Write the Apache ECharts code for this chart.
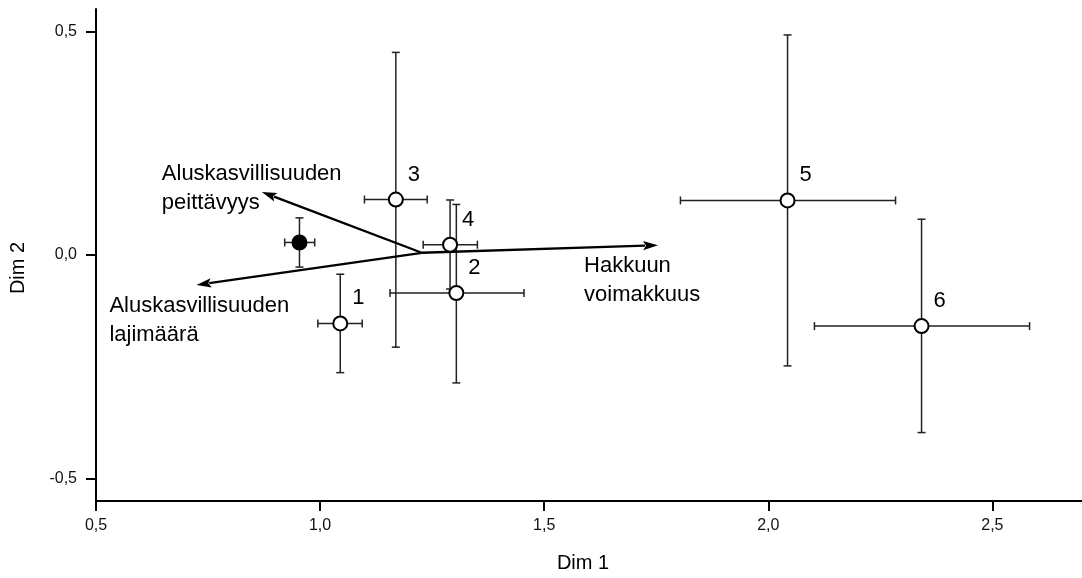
<!DOCTYPE html>
<html>
<head>
<meta charset="utf-8">
<script src="https://cdn.jsdelivr.net/npm/echarts@6/dist/echarts.min.js"></script>
<style>
  html, body { margin: 0; padding: 0; background: #fff; }
  #chart { width: 1082px; height: 578px; }
</style>
</head>
<body>
<div id="chart"></div>
<script>
// Group means on the two ordination dimensions with their ranges
const pointLabels = ['', '1', '2', '3', '4', '5', '6'];
const pointFilled = [true, false, false, false, false, false, false];
const dim1 = [0.954, 1.045, 1.304, 1.169, 1.290, 2.043, 2.342];
const dim2 = [0.028, -0.153, -0.085, 0.124, 0.023, 0.122, -0.159];
const dim1Low = [0.921, 0.995, 1.156, 1.099, 1.230, 1.804, 2.103];
const dim1High = [0.988, 1.094, 1.455, 1.239, 1.351, 2.284, 2.583];
const dim2Low = [-0.027, -0.263, -0.286, -0.206, -0.076, -0.248, -0.397];
const dim2High = [0.083, -0.043, 0.113, 0.453, 0.123, 0.492, 0.080];

// Environmental vectors fitted onto the ordination
const vectorNames = ['Hakkuun\nvoimakkuus', 'Aluskasvillisuuden\npeittävyys', 'Aluskasvillisuuden\nlajimäärä'];
const vectorOrigin = [1.227, 0.005];
const vectorX = [1.754, 0.870, 0.724];
const vectorY = [0.022, 0.141, -0.067];

// Axis ticks
const xTicks = [0.5, 1.0, 1.5, 2.0, 2.5];
const yTicks = [-0.5, 0.0, 0.5];

// Pixel offsets of each vector's caption from its arrow tip (left edge, middle)
const vectorLabelOffset = [[-74, 35], [-100, -3], [-87, 35]];

const FONT = '"Liberation Sans", Arial, Helvetica, sans-serif';
const fmt = v => v.toFixed(1).replace('.', ',');

const errData = dim1.map((x, i) => [x, dim2[i], dim1Low[i], dim1High[i], dim2Low[i], dim2High[i]]);
const vecData = vectorX.map((x, i) => [vectorOrigin[0], vectorOrigin[1], x, vectorY[i], i]);

const chart = echarts.init(document.getElementById('chart'), null, { renderer: 'canvas' });

chart.setOption({
  backgroundColor: '#fff',
  animation: false,
  grid: { left: 95.7, right: 0, top: 9, bottom: 75.7, containLabel: false },
  xAxis: {
    type: 'value', min: 0.5, max: 2.7,
    name: 'Dim 1', nameLocation: 'middle', nameGap: 52,
    nameTextStyle: { fontFamily: FONT, fontSize: 20, color: '#000', padding: [0, 12, 0, 0] },
    axisLine: { onZero: false, lineStyle: { color: '#000', width: 2 } },
    axisTick: { show: true, customValues: xTicks, length: 10, inside: false, lineStyle: { color: '#000', width: 2 } },
    axisLabel: { customValues: xTicks, formatter: fmt, margin: 17, fontFamily: FONT, fontSize: 16, color: '#111' },
    splitLine: { show: false }
  },
  yAxis: {
    type: 'value', min: -0.55, max: 0.55,
    name: 'Dim 2', nameLocation: 'middle', nameGap: 68, nameRotate: 90,
    nameTextStyle: { fontFamily: FONT, fontSize: 20, color: '#000', padding: [0, 26, 0, 0] },
    axisLine: { onZero: false, lineStyle: { color: '#000', width: 2 } },
    axisTick: { show: true, customValues: yTicks, length: 10, inside: false, lineStyle: { color: '#000', width: 2 } },
    axisLabel: { customValues: yTicks, formatter: fmt, margin: 19, fontFamily: FONT, fontSize: 16, color: '#111' },
    splitLine: { show: false }
  },
  series: [
    {
      // horizontal and vertical range bars
      type: 'custom',
      z: 1,
      data: errData,
      renderItem: function (params, api) {
        const c = api.coord([api.value(0), api.value(1)]);
        const xl = api.coord([api.value(2), api.value(1)]);
        const xh = api.coord([api.value(3), api.value(1)]);
        const yl = api.coord([api.value(0), api.value(4)]);
        const yh = api.coord([api.value(0), api.value(5)]);
        const cap = 4;
        const st = { stroke: '#222', lineWidth: 1.5 };
        const L = (x1, y1, x2, y2) => ({ type: 'line', shape: { x1, y1, x2, y2 }, style: st });
        return {
          type: 'group',
          children: [
            L(xl[0], c[1], xh[0], c[1]),
            L(xl[0], c[1] - cap, xl[0], c[1] + cap),
            L(xh[0], c[1] - cap, xh[0], c[1] + cap),
            L(c[0], yl[1], c[0], yh[1]),
            L(c[0] - cap, yl[1], c[0] + cap, yl[1]),
            L(c[0] - cap, yh[1], c[0] + cap, yh[1])
          ]
        };
      }
    },
    {
      // vectors with arrow heads and captions
      type: 'custom',
      z: 2,
      data: vecData,
      renderItem: function (params, api) {
        const o = api.coord([api.value(0), api.value(1)]);
        const t = api.coord([api.value(2), api.value(3)]);
        const idx = api.value(4);
        const dx = t[0] - o[0], dy = t[1] - o[1];
        const len = Math.sqrt(dx * dx + dy * dy);
        const ux = dx / len, uy = dy / len;
        const headLen = 15, headW = 4.6;
        const bx = t[0] - ux * headLen, by = t[1] - uy * headLen;
        const off = vectorLabelOffset[idx];
        return {
          type: 'group',
          children: [
            { type: 'line', shape: { x1: o[0], y1: o[1], x2: bx + ux * 2, y2: by + uy * 2 },
              style: { stroke: '#000', lineWidth: 2.3 } },
            { type: 'polygon',
              shape: { points: [[t[0], t[1]], [bx - uy * headW, by + ux * headW], [bx + ux * 3, by + uy * 3], [bx + uy * headW, by - ux * headW]] },
              style: { fill: '#000' } },
            { type: 'text',
              style: { text: vectorNames[idx], x: t[0] + off[0], y: t[1] + off[1],
                       align: 'left', verticalAlign: 'middle', lineHeight: 29,
                       fontFamily: FONT, fontSize: 22, fill: '#000' } }
          ]
        };
      }
    },
    {
      // group means
      type: 'scatter',
      z: 3,
      symbol: 'circle',
      symbolSize: 14,
      data: dim1.map((x, i) => ({
        value: [x, dim2[i]],
        itemStyle: { color: pointFilled[i] ? '#000' : '#fff', borderColor: '#000', borderWidth: 2, opacity: 1 },
        label: {
          show: pointLabels[i] !== '', formatter: pointLabels[i], position: 'inside', offset: [18, -25],
          fontFamily: FONT, fontSize: 22, color: '#000', textBorderWidth: 0
        }
      })),
      emphasis: { disabled: true }
    }
  ]
});
</script>
</body>
</html>
